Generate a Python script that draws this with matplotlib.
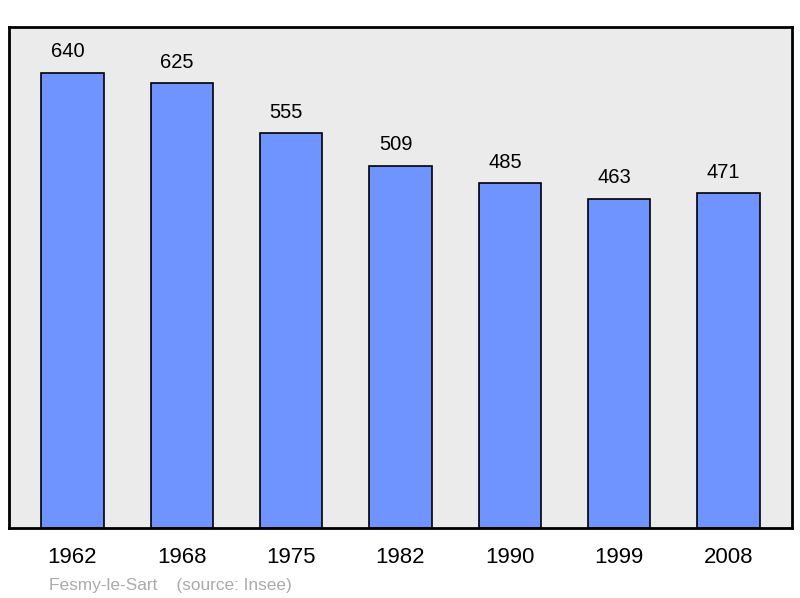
import matplotlib.pyplot as plt
import numpy as np

plt.rcParams['font.family'] = ['Liberation Sans', 'DejaVu Sans']

years = ["1962", "1968", "1975", "1982", "1990", "1999", "2008"]
population = [640, 625, 555, 509, 485, 463, 471]

fig = plt.figure(figsize=(8, 5.98), dpi=100)
ax = fig.add_axes([9 / 800, 70 / 598, 783 / 800, 501 / 598])
ax.set_facecolor('#ebebeb')

x = np.arange(len(years))
bars = ax.bar(x, population, width=0.57, color='#7094ff',
              edgecolor='black', linewidth=1.2, zorder=2)

# value labels sit a little left of the bar centre in the original
for xi, val in zip(x, population):
    ax.annotate(str(val), (xi, val), xytext=(-3.5, 11), textcoords='offset points',
                ha='center', va='baseline', fontsize=14.5)

ax.set_xlim(-0.58, 6.58)
ax.set_ylim(0, 704)
ax.set_yticks([])
ax.set_xticks(x)
ax.set_xticklabels(years, fontsize=16)
ax.tick_params(axis='x', length=0, pad=14)
for spine in ax.spines.values():
    spine.set_linewidth(2)

fig.text(49 / 800, 1 - 590 / 598, "Fesmy-le-Sart    (source: Insee)",
         fontsize=12.4, color='#aaaaaa', va='baseline')

fig.savefig('out.png', dpi=100)
